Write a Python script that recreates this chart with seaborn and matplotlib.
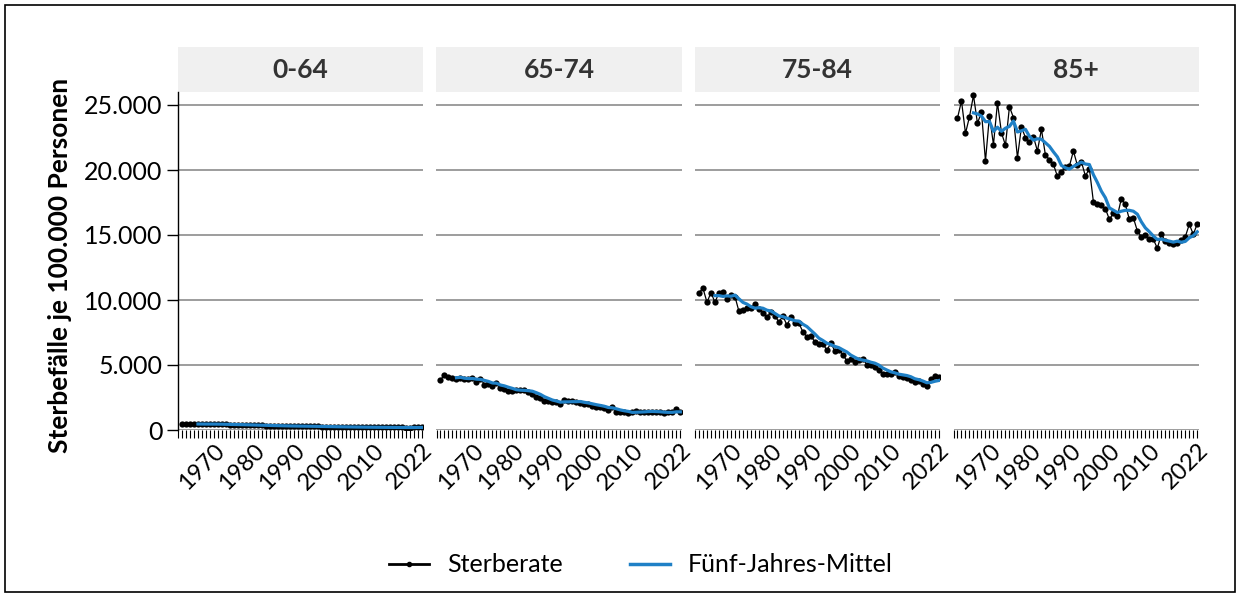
import matplotlib
matplotlib.use('Agg')
import matplotlib.pyplot as plt
import matplotlib.patches as patches
from matplotlib.lines import Line2D
from matplotlib.ticker import FuncFormatter
import numpy as np
import pandas as pd
import seaborn as sns

# Data (deaths per 100.000 persons), 1962-2022
years = list(range(1962, 2023))
groups = ['0-64', '65-74', '75-84', '85+']

rate_0_64 = [470, 465, 460, 455, 460, 450, 455, 460, 450, 440,
             430, 425, 415, 410, 405, 395, 385, 380, 370, 360,
             350, 345, 335, 325, 320, 315, 305, 300, 300, 295,
             290, 285, 280, 275, 270, 262, 255, 250, 245, 240,
             235, 232, 228, 222, 218, 215, 212, 210, 207, 205,
             203, 200, 198, 196, 195, 194, 192, 190, 200, 205,
             198]
rate_65_74 = [3860, 4250, 4070, 3990, 3940, 4020, 3890, 3940, 4020, 3680,
              3940, 3500, 3550, 3420, 3600, 3240, 3160, 3030, 2980, 3080,
              3080, 3080, 2900, 2770, 2510, 2440, 2200, 2250, 2130, 2130,
              2000, 2310, 2250, 2200, 2130, 2070, 2000, 2000, 1870, 1790,
              1790, 1680, 1530, 1740, 1420, 1350, 1350, 1300, 1350, 1480,
              1420, 1420, 1420, 1400, 1420, 1350, 1270, 1350, 1400, 1610,
              1350]
rate_75_84 = [10570, 10900, 9820, 10570, 9820, 10570, 10590, 10050, 10410, 10260,
              9120, 9230, 9410, 9410, 9690, 9300, 9020, 8660, 9100, 8760,
              8320, 8760, 8070, 8660, 8200, 8200, 7550, 7170, 7220, 6780,
              6600, 6650, 6130, 6700, 6060, 6130, 5800, 5310, 5490, 5230,
              5360, 5490, 5030, 4970, 4850, 4640, 4330, 4280, 4280, 4460,
              4120, 4070, 4020, 3820, 3690, 3760, 3560, 3350, 3940, 4120,
              4070]
rate_85 = [24000, 25310, 22820, 24100, 25740, 23590, 24460, 20690, 24180, 21950,
           25180, 22870, 21900, 24870, 24030, 20950, 23310, 22490, 22180, 22560,
           21460, 23130, 21150, 20800, 20440, 19510, 19850, 20250, 20300, 21460,
           20360, 20640, 19540, 20100, 17560, 17360, 17280, 17030, 16200, 16670,
           16460, 17800, 17360, 16200, 16330, 15310, 14870, 15030, 14720, 14670,
           13980, 15050, 14540, 14410, 14280, 14360, 14620, 14870, 15820, 15050,
           15870]

label_years = [1970, 1980, 1990, 2000, 2010, 2022]

frames = []
for g, vals in zip(groups, [rate_0_64, rate_65_74, rate_75_84, rate_85]):
    d = pd.DataFrame({'year': years, 'rate': vals, 'group': g})
    d['mean5'] = d['rate'].rolling(5).mean()
    frames.append(d)
df = pd.concat(frames, ignore_index=True)

plt.rcParams['font.family'] = ['Lato', 'DejaVu Sans']

W, H = 1240, 596
fig = plt.figure(figsize=(W / 100, H / 100), dpi=100)

blue = '#1f80c6'
ax_w = 245 / W
ax_b = (H - 430) / H
ax_h = 338 / H
lefts = [178, 436.5, 695, 953.5]

axes = []
for i, g in enumerate(groups):
    ax = fig.add_axes([lefts[i] / W, ax_b, ax_w, ax_h])
    axes.append(ax)
    d = df[df['group'] == g]
    sns.lineplot(data=d, x='year', y='rate', ax=ax, color='black', lw=0.9,
                 marker='o', markersize=4.5, markeredgewidth=0, zorder=3)
    sns.lineplot(data=d, x='year', y='mean5', ax=ax, color=blue, lw=2.3, zorder=4)
    ax.set_xlim(1961, 2022.3)
    ax.set_ylim(0, 26000)
    ax.set_yticks(range(0, 25001, 5000))
    ax.yaxis.grid(True, color='#8c8c8c', lw=1.2)
    ax.set_axisbelow(True)
    ax.set_xticks(label_years)
    ax.set_xticks(range(1961, 2023), minor=True)
    ax.tick_params(axis='x', which='both', length=6, width=0.8, color='black',
                   direction='out', labelsize=17, pad=1)
    plt.setp(ax.get_xticklabels(), rotation=45, ha='right', rotation_mode='anchor')
    ax.set_xlabel('')
    ax.set_ylabel('')
    for s in ['top', 'right', 'bottom']:
        ax.spines[s].set_visible(False)
    if i == 0:
        ax.spines['left'].set_color('black')
        ax.spines['left'].set_linewidth(1.0)
        ax.tick_params(axis='y', length=8, width=1, labelsize=18, pad=3)
        ax.yaxis.set_major_formatter(FuncFormatter(lambda v, p: f'{int(v):,}'.replace(',', '.')))
    else:
        ax.spines['left'].set_visible(False)
        ax.tick_params(axis='y', length=0, labelleft=False)
    # facet strip
    strip_h = 45 / 338
    ax.add_patch(patches.Rectangle((0, 1), 1, strip_h, transform=ax.transAxes,
                                   facecolor='#f0f0f0', edgecolor='none', clip_on=False))
    ax.text(0.5, 1 + strip_h / 2, g, transform=ax.transAxes, ha='center', va='center',
            fontsize=19, fontweight='bold', color='#333333')

fig.text(60 / W, (H - 265) / H, 'Sterbefälle je 100.000 Personen', rotation=90,
         ha='center', va='center', fontsize=19, fontweight='bold')

handles = [Line2D([], [], color='black', lw=2, marker='o', markersize=3),
           Line2D([], [], color=blue, lw=2.5)]
fig.legend(handles, ['Sterberate', 'Fünf-Jahres-Mittel'], loc='center',
           bbox_to_anchor=(641 / W, (H - 565) / H), ncol=2, frameon=False,
           fontsize=18, handlelength=1.6, columnspacing=2.7, handletextpad=0.7)

fig.add_artist(patches.Rectangle((5 / W, 4 / H), 1230 / W, 587 / H, transform=fig.transFigure,
                                 fill=False, edgecolor='black', lw=1.2))

fig.savefig('out.png', dpi=100)
